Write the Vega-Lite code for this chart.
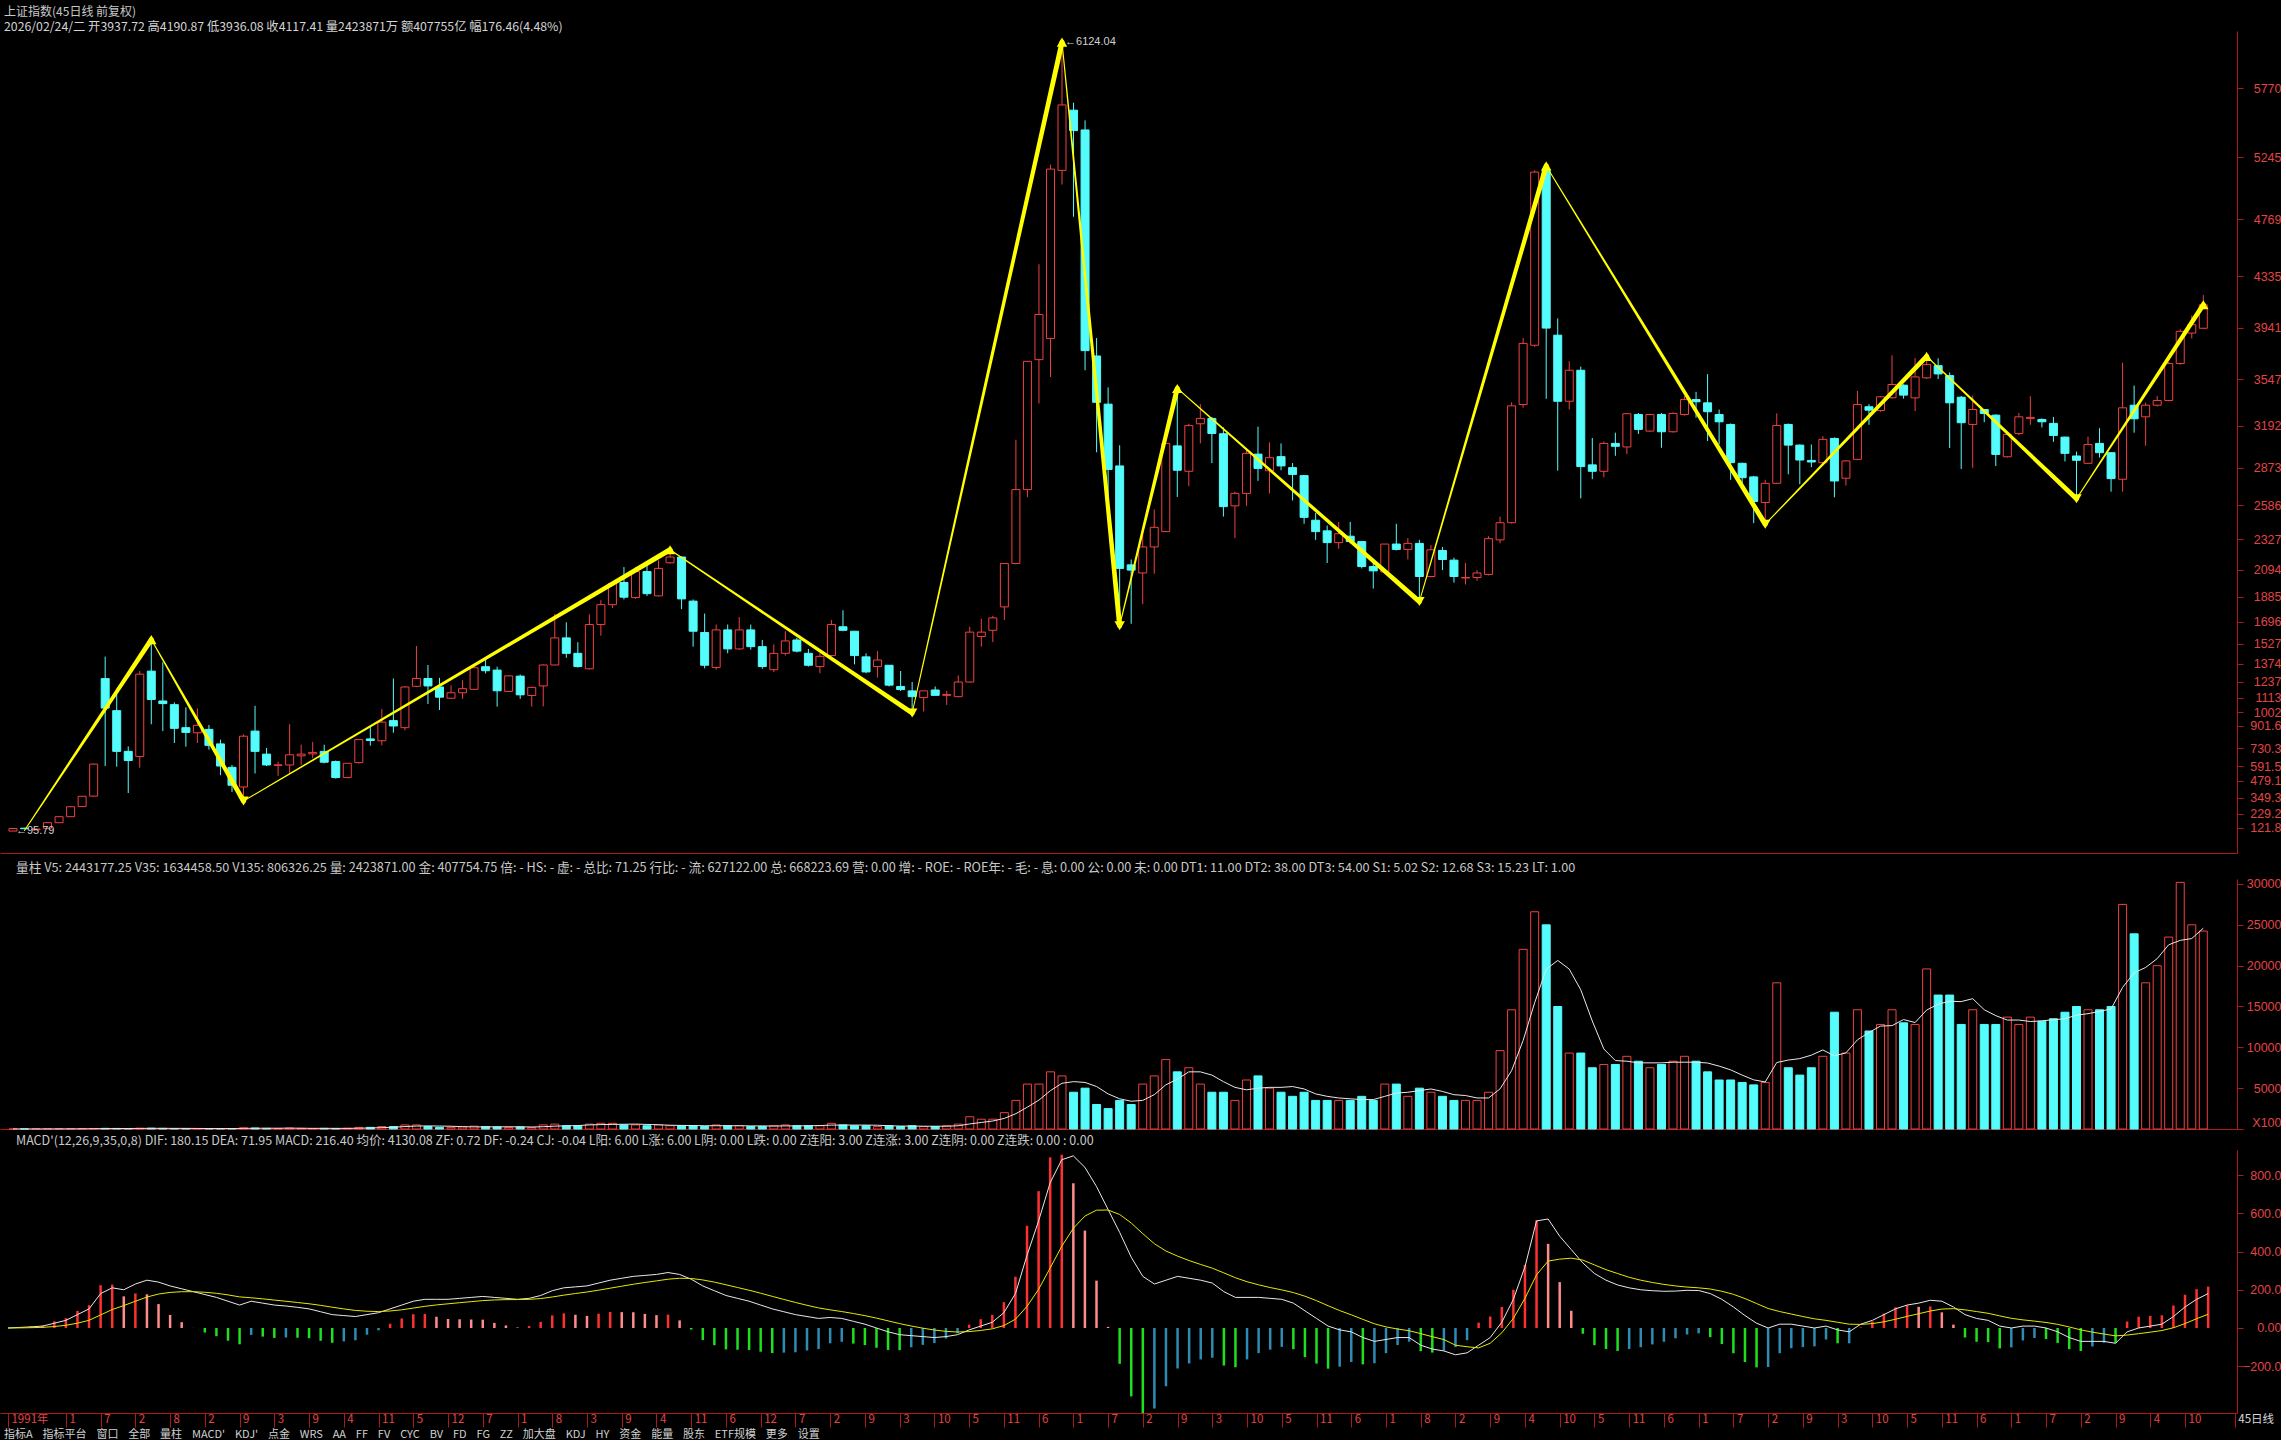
{
"$schema":"https://vega.github.io/schema/vega-lite/v6.json",
"background":"#000000",
"padding":{"left":0,"top":5,"right":0,"bottom":0},
"spacing":9,
"config":{
 "view":{"stroke":null},
 "axis":{"grid":false,"title":null,"domainColor":"#b01818","tickColor":"#b01818","labelColor":"#e04545","labelFont":"Liberation Sans","labelFontSize":12,"labelOverlap":false},
 "title":{"anchor":"start","font":"Liberation Sans Narrow, Noto Sans CJK SC","fontWeight":"normal","fontSize":12,"color":"#c8c8c8","subtitleFont":"Liberation Sans Narrow, Noto Sans CJK SC","subtitleFontSize":12.3,"subtitleColor":"#d4d4d4","offset":3,"subtitlePadding":2}
},
"title":{"text":"指标A\u00a0\u00a0\u00a0\u00a0指标平台\u00a0\u00a0\u00a0\u00a0窗口\u00a0\u00a0\u00a0\u00a0全部\u00a0\u00a0\u00a0\u00a0量柱\u00a0\u00a0\u00a0\u00a0MACD'\u00a0\u00a0\u00a0\u00a0KDJ'\u00a0\u00a0\u00a0\u00a0点金\u00a0\u00a0\u00a0\u00a0WRS\u00a0\u00a0\u00a0\u00a0AA\u00a0\u00a0\u00a0\u00a0FF\u00a0\u00a0\u00a0\u00a0FV\u00a0\u00a0\u00a0\u00a0CYC\u00a0\u00a0\u00a0\u00a0BV\u00a0\u00a0\u00a0\u00a0FD\u00a0\u00a0\u00a0\u00a0FG\u00a0\u00a0\u00a0\u00a0ZZ\u00a0\u00a0\u00a0\u00a0加大盘\u00a0\u00a0\u00a0\u00a0KDJ\u00a0\u00a0\u00a0\u00a0HY\u00a0\u00a0\u00a0\u00a0资金\u00a0\u00a0\u00a0\u00a0能量\u00a0\u00a0\u00a0\u00a0股东\u00a0\u00a0\u00a0\u00a0ETF规模\u00a0\u00a0\u00a0\u00a0更多\u00a0\u00a0\u00a0\u00a0设置","orient":"bottom","anchor":"start","font":"Noto Sans CJK SC","fontSize":11,"offset":1,"dx":4,"color":"#d0d0d0"},
"datasets":{
"k":[
{"i":0,"o":96.05,"h":118,"l":95.79,"c":116,"v":5,"dif":0,"dea":0,"m":0},
{"i":1,"o":118,"h":121,"l":112,"c":114,"v":10,"dif":3,"dea":0.6,"m":4.8},
{"i":2,"o":106,"h":114,"l":104,"c":112,"v":10,"dif":6,"dea":1.7,"m":8.6},
{"i":3,"o":117,"h":162,"l":116,"c":160,"v":15,"dif":10,"dea":3.4,"m":13.2},
{"i":4,"o":160,"h":208,"l":158,"c":206,"v":20,"dif":25,"dea":7.7,"m":34.6},
{"i":5,"o":206,"h":284,"l":204,"c":282,"v":30,"dif":40,"dea":14.2,"m":51.6},
{"i":6,"o":283,"h":364,"l":281,"c":362,"v":40,"dif":70,"dea":25.3,"m":89.4},
{"i":7,"o":363,"h":612,"l":361,"c":608,"v":60,"dif":100,"dea":40.3,"m":119.4},
{"i":8,"o":1261,"h":1429,"l":593,"c":1036,"v":80,"dif":180,"dea":68.2,"m":223.6},
{"i":9,"o":1016,"h":1171,"l":588,"c":705,"v":70,"dif":210,"dea":96.6,"m":226.8},
{"i":10,"o":705,"h":743,"l":386.85,"c":635,"v":60,"dif":200,"dea":117.3,"m":165.4},
{"i":11,"o":666,"h":1320,"l":580,"c":1295,"v":90,"dif":230,"dea":139.8,"m":180.4},
{"i":12,"o":1318,"h":1558.95,"l":912,"c":1101,"v":100,"dif":250,"dea":161.9,"m":176.2},
{"i":13,"o":1090,"h":1386,"l":860,"c":1070,"v":80,"dif":240,"dea":177.5,"m":125},
{"i":14,"o":1062,"h":1080,"l":769,"c":881,"v":60,"dif":220,"dea":186,"m":68},
{"i":15,"o":886,"h":1041,"l":741,"c":850,"v":50,"dif":205,"dea":189.8,"m":30.4},
{"i":16,"o":847,"h":1033,"l":769,"c":904,"v":50,"dif":190,"dea":189.8,"m":0.4},
{"i":17,"o":873,"h":907,"l":718,"c":751,"v":60,"dif":175,"dea":186.9,"m":-23.8},
{"i":18,"o":762,"h":795,"l":523,"c":593,"v":60,"dif":160,"dea":181.5,"m":-43},
{"i":19,"o":583,"h":601,"l":394,"c":446,"v":60,"dif":140,"dea":173.2,"m":-66.4},
{"i":20,"o":433,"h":835,"l":325.89,"c":821,"v":150,"dif":120,"dea":162.6,"m":-85.2},
{"i":21,"o":860,"h":1052.94,"l":536,"c":705,"v":120,"dif":140,"dea":158.1,"m":-36.2},
{"i":22,"o":684,"h":731,"l":593,"c":601,"v":80,"dif":130,"dea":152.5,"m":-45},
{"i":23,"o":598,"h":627,"l":518,"c":602,"v":60,"dif":120,"dea":146,"m":-52},
{"i":24,"o":601,"h":912,"l":536,"c":679,"v":120,"dif":115,"dea":139.8,"m":-49.6},
{"i":25,"o":671,"h":756,"l":601,"c":684,"v":80,"dif":108,"dea":133.4,"m":-50.8},
{"i":26,"o":686,"h":777,"l":653,"c":697,"v":60,"dif":100,"dea":126.7,"m":-53.4},
{"i":27,"o":705,"h":756,"l":614,"c":622,"v":80,"dif":85,"dea":118.4,"m":-66.8},
{"i":28,"o":627,"h":635,"l":497,"c":505,"v":60,"dif":70,"dea":108.7,"m":-77.4},
{"i":29,"o":505,"h":614,"l":500,"c":614,"v":90,"dif":65,"dea":100,"m":-70},
{"i":30,"o":619,"h":800,"l":612,"c":795,"v":200,"dif":60,"dea":92,"m":-64},
{"i":31,"o":800,"h":899,"l":749,"c":788,"v":200,"dif":70,"dea":87.6,"m":-35.2},
{"i":32,"o":786,"h":1028,"l":751,"c":928,"v":300,"dif":80,"dea":86.1,"m":-12.2},
{"i":33,"o":940,"h":1262,"l":847,"c":899,"v":300,"dif":100,"dea":88.9,"m":22.2},
{"i":34,"o":886,"h":1205,"l":865,"c":1197,"v":500,"dif":120,"dea":95.1,"m":49.8},
{"i":35,"o":1202,"h":1510,"l":1197,"c":1262,"v":500,"dif":140,"dea":104.1,"m":71.8},
{"i":36,"o":1262,"h":1365,"l":1067,"c":1205,"v":300,"dif":150,"dea":113.3,"m":73.4},
{"i":37,"o":1197,"h":1267,"l":1021,"c":1119,"v":200,"dif":150,"dea":120.6,"m":58.8},
{"i":38,"o":1111,"h":1210,"l":1106,"c":1153,"v":200,"dif":150,"dea":126.5,"m":47},
{"i":39,"o":1153,"h":1249,"l":1106,"c":1184,"v":250,"dif":155,"dea":132.2,"m":45.6},
{"i":40,"o":1179,"h":1352,"l":1179,"c":1344,"v":350,"dif":160,"dea":137.8,"m":44.4},
{"i":41,"o":1352,"h":1422,"l":1300,"c":1321,"v":300,"dif":165,"dea":143.2,"m":43.6},
{"i":42,"o":1326,"h":1352,"l":1047,"c":1168,"v":250,"dif":160,"dea":146.6,"m":26.8},
{"i":43,"o":1163,"h":1287,"l":1158,"c":1282,"v":200,"dif":155,"dea":148.3,"m":13.4},
{"i":44,"o":1280,"h":1292,"l":1106,"c":1137,"v":250,"dif":150,"dea":148.6,"m":2.8},
{"i":45,"o":1132,"h":1200,"l":1047,"c":1194,"v":200,"dif":155,"dea":149.9,"m":10.2},
{"i":46,"o":1205,"h":1370,"l":1049,"c":1365,"v":500,"dif":170,"dea":153.9,"m":32.2},
{"i":47,"o":1365,"h":1756,"l":1365,"c":1572,"v":600,"dif":195,"dea":162.1,"m":65.8},
{"i":48,"o":1572,"h":1691,"l":1420,"c":1454,"v":400,"dif":210,"dea":171.7,"m":76.6},
{"i":49,"o":1454,"h":1539,"l":1345,"c":1353,"v":400,"dif":215,"dea":180.4,"m":69.2},
{"i":50,"o":1336,"h":1752,"l":1330,"c":1674,"v":600,"dif":220,"dea":188.3,"m":63.4},
{"i":51,"o":1674,"h":1860,"l":1589,"c":1826,"v":700,"dif":235,"dea":197.6,"m":74.8},
{"i":52,"o":1826,"h":1995,"l":1800,"c":1988,"v":700,"dif":250,"dea":208.1,"m":83.8},
{"i":53,"o":1995,"h":2113,"l":1866,"c":1883,"v":500,"dif":260,"dea":218.5,"m":83},
{"i":54,"o":1880,"h":2113,"l":1870,"c":2079,"v":500,"dif":270,"dea":228.8,"m":82.4},
{"i":55,"o":2079,"h":2130,"l":1893,"c":1910,"v":400,"dif":275,"dea":238,"m":74},
{"i":56,"o":1893,"h":2164,"l":1890,"c":2103,"v":500,"dif":280,"dea":246.4,"m":67.2},
{"i":57,"o":2146,"h":2245.44,"l":2140,"c":2190,"v":400,"dif":290,"dea":255.1,"m":69.8},
{"i":58,"o":2190,"h":2195,"l":1792,"c":1870,"v":400,"dif":280,"dea":260.1,"m":39.8},
{"i":59,"o":1853,"h":1866,"l":1505,"c":1623,"v":400,"dif":255,"dea":259.1,"m":-8.2},
{"i":60,"o":1613,"h":1758,"l":1339,"c":1363,"v":300,"dif":220,"dea":251.3,"m":-62.6},
{"i":61,"o":1346,"h":1674,"l":1329,"c":1633,"v":500,"dif":195,"dea":240,"m":-90},
{"i":62,"o":1633,"h":1674,"l":1454,"c":1488,"v":400,"dif":170,"dea":226,"m":-112},
{"i":63,"o":1488,"h":1731,"l":1480,"c":1633,"v":400,"dif":155,"dea":211.8,"m":-113.6},
{"i":64,"o":1633,"h":1674,"l":1482,"c":1505,"v":300,"dif":140,"dea":197.4,"m":-114.8},
{"i":65,"o":1505,"h":1556,"l":1336,"c":1353,"v":300,"dif":120,"dea":181.9,"m":-123.8},
{"i":66,"o":1329,"h":1522,"l":1311,"c":1454,"v":400,"dif":100,"dea":165.5,"m":-131},
{"i":67,"o":1454,"h":1623,"l":1437,"c":1549,"v":500,"dif":85,"dea":149.4,"m":-128.8},
{"i":68,"o":1556,"h":1572,"l":1461,"c":1471,"v":400,"dif":70,"dea":133.5,"m":-127},
{"i":69,"o":1454,"h":1488,"l":1353,"c":1363,"v":400,"dif":60,"dea":118.8,"m":-117.6},
{"i":70,"o":1353,"h":1454,"l":1302,"c":1431,"v":400,"dif":50,"dea":105,"m":-110},
{"i":71,"o":1437,"h":1708,"l":1430,"c":1674,"v":700,"dif":55,"dea":95,"m":-80},
{"i":72,"o":1657,"h":1783,"l":1623,"c":1630,"v":500,"dif":50,"dea":86,"m":-72},
{"i":73,"o":1623,"h":1623,"l":1370,"c":1437,"v":400,"dif":35,"dea":75.8,"m":-81.6},
{"i":74,"o":1427,"h":1454,"l":1302,"c":1312,"v":400,"dif":20,"dea":64.6,"m":-89.2},
{"i":75,"o":1353,"h":1471,"l":1268,"c":1403,"v":300,"dif":0,"dea":51.7,"m":-103.4},
{"i":76,"o":1363,"h":1363,"l":1201,"c":1211,"v":400,"dif":-20,"dea":37.4,"m":-114.8},
{"i":77,"o":1201,"h":1319,"l":1167,"c":1177,"v":300,"dif":-35,"dea":22.9,"m":-115.8},
{"i":78,"o":1167,"h":1235,"l":998.23,"c":1123,"v":400,"dif":-40,"dea":10.3,"m":-100.6},
{"i":79,"o":1116,"h":1167,"l":1010,"c":1167,"v":300,"dif":-45,"dea":-0.8,"m":-88.4},
{"i":80,"o":1174,"h":1201,"l":1133,"c":1133,"v":300,"dif":-50,"dea":-10.6,"m":-78.8},
{"i":81,"o":1133,"h":1167,"l":1060,"c":1140,"v":400,"dif":-45,"dea":-17.5,"m":-55},
{"i":82,"o":1123,"h":1285,"l":1118,"c":1235,"v":600,"dif":-35,"dea":-21,"m":-28},
{"i":83,"o":1235,"h":1657,"l":1230,"c":1616,"v":1500,"dif":-10,"dea":-18.8,"m":17.6},
{"i":84,"o":1583,"h":1718,"l":1505,"c":1616,"v":1200,"dif":10,"dea":-13,"m":46},
{"i":85,"o":1630,"h":1741,"l":1539,"c":1725,"v":1200,"dif":30,"dea":-4.4,"m":68.8},
{"i":86,"o":1809,"h":2140,"l":1708,"c":2140,"v":2000,"dif":80,"dea":12.5,"m":135},
{"i":87,"o":2140,"h":3086,"l":2135,"c":2705,"v":3500,"dif":180,"dea":46,"m":268},
{"i":88,"o":2705,"h":3685,"l":2647,"c":3685,"v":5500,"dif":380,"dea":112.8,"m":534.4},
{"i":89,"o":3698,"h":4427,"l":3363,"c":4043,"v":5500,"dif":560,"dea":202.2,"m":715.6},
{"i":90,"o":3860,"h":5188,"l":3566,"c":5154,"v":7000,"dif":760,"dea":313.8,"m":892.4},
{"i":91,"o":5144,"h":6124.04,"l":5036,"c":5644,"v":6500,"dif":880,"dea":427,"m":906},
{"i":92,"o":5604,"h":5661,"l":4790,"c":5448,"v":4500,"dif":900,"dea":521.6,"m":756.8},
{"i":93,"o":5453,"h":5526,"l":3617,"c":3767,"v":5000,"dif":840,"dea":585.3,"m":509.4},
{"i":94,"o":3726,"h":3863,"l":2990,"c":3372,"v":3000,"dif":740,"dea":616.2,"m":247.6},
{"i":95,"o":3358,"h":3486,"l":2581,"c":2859,"v":2500,"dif":620,"dea":617,"m":6},
{"i":96,"o":2886,"h":3044,"l":1664.93,"c":2103,"v":3500,"dif":500,"dea":593.6,"m":-187.2},
{"i":97,"o":2130,"h":2171,"l":1680,"c":2090,"v":3000,"dif":370,"dea":548.9,"m":-357.8},
{"i":98,"o":2068,"h":2403,"l":1830,"c":2267,"v":5500,"dif":270,"dea":493.1,"m":-446.2},
{"i":99,"o":2267,"h":2553,"l":2062,"c":2417,"v":6500,"dif":230,"dea":440.5,"m":-421},
{"i":100,"o":2384,"h":3099,"l":2380,"c":3058,"v":8500,"dif":250,"dea":402.4,"m":-304.8},
{"i":101,"o":3039,"h":3478.01,"l":2649,"c":2853,"v":7000,"dif":270,"dea":375.9,"m":-211.8},
{"i":102,"o":2845,"h":3208,"l":2731,"c":3194,"v":7500,"dif":260,"dea":352.7,"m":-185.4},
{"i":103,"o":3208,"h":3358,"l":3058,"c":3249,"v":5500,"dif":250,"dea":332.2,"m":-164.4},
{"i":104,"o":3249,"h":3260,"l":2908,"c":3134,"v":4500,"dif":235,"dea":312.8,"m":-155.6},
{"i":105,"o":3132,"h":3181,"l":2499,"c":2575,"v":4500,"dif":190,"dea":288.2,"m":-196.4},
{"i":106,"o":2581,"h":2690,"l":2335,"c":2676,"v":3500,"dif":160,"dea":262.6,"m":-205.2},
{"i":107,"o":2676,"h":3017,"l":2581,"c":2982,"v":6000,"dif":160,"dea":242.1,"m":-164.2},
{"i":108,"o":2976,"h":3186,"l":2772,"c":2867,"v":6500,"dif":160,"dea":225.7,"m":-131.4},
{"i":109,"o":2849,"h":3066,"l":2676,"c":2949,"v":5000,"dif":155,"dea":211.6,"m":-113.2},
{"i":110,"o":2957,"h":3058,"l":2853,"c":2886,"v":4500,"dif":150,"dea":199.3,"m":-98.6},
{"i":111,"o":2873,"h":2908,"l":2622,"c":2821,"v":4000,"dif":130,"dea":185.4,"m":-110.8},
{"i":112,"o":2812,"h":2815,"l":2444,"c":2493,"v":4500,"dif":90,"dea":166.3,"m":-152.6},
{"i":113,"o":2471,"h":2526,"l":2321,"c":2384,"v":3500,"dif":50,"dea":143,"m":-186},
{"i":114,"o":2390,"h":2431,"l":2144,"c":2300,"v":3500,"dif":10,"dea":116.4,"m":-212.8},
{"i":115,"o":2300,"h":2458,"l":2253,"c":2368,"v":3500,"dif":-10,"dea":91.1,"m":-202.2},
{"i":116,"o":2349,"h":2458,"l":2294,"c":2308,"v":3500,"dif":-20,"dea":68.9,"m":-177.8},
{"i":117,"o":2308,"h":2310,"l":2103,"c":2117,"v":4000,"dif":-50,"dea":45.1,"m":-190.2},
{"i":118,"o":2117,"h":2171,"l":1949,"c":2084,"v":3500,"dif":-70,"dea":22.1,"m":-184.2},
{"i":119,"o":2076,"h":2289,"l":2062,"c":2289,"v":5500,"dif":-60,"dea":5.7,"m":-131.4},
{"i":120,"o":2289,"h":2444,"l":2240,"c":2248,"v":5500,"dif":-50,"dea":-5.4,"m":-89.2},
{"i":121,"o":2248,"h":2335,"l":2171,"c":2294,"v":4000,"dif":-50,"dea":-14.3,"m":-71.4},
{"i":122,"o":2294,"h":2321,"l":1849.65,"c":2041,"v":5000,"dif":-90,"dea":-29.5,"m":-121},
{"i":123,"o":2041,"h":2281,"l":2035,"c":2245,"v":4500,"dif":-110,"dea":-45.6,"m":-128.8},
{"i":124,"o":2240,"h":2267,"l":2090,"c":2171,"v":4000,"dif":-120,"dea":-60.5,"m":-119},
{"i":125,"o":2166,"h":2185,"l":1994,"c":2041,"v":3500,"dif":-140,"dea":-90,"m":-100},
{"i":126,"o":2030,"h":2144,"l":1980,"c":2033,"v":3500,"dif":-130,"dea":-98,"m":-64},
{"i":127,"o":2033,"h":2090,"l":2008,"c":2068,"v":3500,"dif":-90,"dea":-104,"m":28},
{"i":128,"o":2057,"h":2349,"l":2049,"c":2330,"v":4500,"dif":-50,"dea":-80,"m":60},
{"i":129,"o":2321,"h":2499,"l":2294,"c":2452,"v":9600,"dif":30,"dea":-25,"m":110},
{"i":130,"o":2452,"h":3372,"l":2445,"c":3345,"v":14600,"dif":150,"dea":50,"m":200},
{"i":131,"o":3355,"h":3863,"l":3331,"c":3822,"v":22000,"dif":320,"dea":155,"m":330},
{"i":132,"o":3808,"h":5145,"l":3795,"c":5131,"v":26600,"dif":560,"dea":278,"m":564},
{"i":133,"o":5145,"h":5178.19,"l":3399,"c":3939,"v":25000,"dif":570,"dea":350,"m":440},
{"i":134,"o":3885,"h":4013,"l":2850,"c":3380,"v":15000,"dif":480,"dea":360,"m":240},
{"i":135,"o":3380,"h":3686,"l":3317,"c":3617,"v":9300,"dif":410,"dea":365,"m":90},
{"i":136,"o":3617,"h":3645,"l":2638,"c":2881,"v":9300,"dif":340,"dea":355,"m":-30},
{"i":137,"o":2894,"h":3099,"l":2785,"c":2845,"v":7500,"dif":285,"dea":330,"m":-90},
{"i":138,"o":2845,"h":3072,"l":2799,"c":3058,"v":7900,"dif":250,"dea":305,"m":-110},
{"i":139,"o":3058,"h":3140,"l":2963,"c":3036,"v":7900,"dif":225,"dea":285,"m":-120},
{"i":140,"o":3031,"h":3290,"l":2976,"c":3285,"v":8900,"dif":210,"dea":265,"m":-110},
{"i":141,"o":3279,"h":3290,"l":3130,"c":3165,"v":8300,"dif":200,"dea":250,"m":-100},
{"i":142,"o":3152,"h":3285,"l":3145,"c":3279,"v":7500,"dif":195,"dea":238,"m":-86},
{"i":143,"o":3279,"h":3290,"l":3025,"c":3147,"v":7900,"dif":192,"dea":228,"m":-72},
{"i":144,"o":3147,"h":3295,"l":3140,"c":3287,"v":8300,"dif":193,"dea":220,"m":-54},
{"i":145,"o":3279,"h":3419,"l":3270,"c":3393,"v":8900,"dif":197,"dea":214,"m":-34},
{"i":146,"o":3393,"h":3452,"l":3254,"c":3376,"v":8300,"dif":196,"dea":210,"m":-28},
{"i":147,"o":3368,"h":3587,"l":3076,"c":3300,"v":7000,"dif":180,"dea":204,"m":-48},
{"i":148,"o":3279,"h":3317,"l":3050,"c":3223,"v":6000,"dif":150,"dea":192,"m":-84},
{"i":149,"o":3203,"h":3210,"l":2780,"c":2911,"v":6000,"dif":110,"dea":176,"m":-132},
{"i":150,"o":2906,"h":2910,"l":2750,"c":2796,"v":5700,"dif":65,"dea":154,"m":-178},
{"i":151,"o":2802,"h":2810,"l":2449,"c":2614,"v":5400,"dif":25,"dea":128,"m":-206},
{"i":152,"o":2606,"h":2780,"l":2440.91,"c":2753,"v":5700,"dif":0,"dea":102,"m":-204},
{"i":153,"o":2753,"h":3288,"l":2750,"c":3195,"v":17900,"dif":20,"dea":86,"m":-132},
{"i":154,"o":3203,"h":3210,"l":2822,"c":3045,"v":7500,"dif":20,"dea":73,"m":-106},
{"i":155,"o":3045,"h":3050,"l":2746,"c":2931,"v":6600,"dif":10,"dea":60,"m":-100},
{"i":156,"o":2928,"h":3050,"l":2876,"c":2916,"v":7500,"dif":0,"dea":48,"m":-96},
{"i":157,"o":2911,"h":3114,"l":2900,"c":3089,"v":8900,"dif":10,"dea":40,"m":-60},
{"i":158,"o":3096,"h":3104,"l":2646,"c":2771,"v":14300,"dif":-10,"dea":30,"m":-80},
{"i":159,"o":2792,"h":2931,"l":2736,"c":2924,"v":9300,"dif":-20,"dea":20,"m":-80},
{"i":160,"o":2936,"h":3458,"l":2930,"c":3355,"v":14600,"dif":20,"dea":18.8,"m":2.4},
{"i":161,"o":3338,"h":3358,"l":3200,"c":3312,"v":12000,"dif":40,"dea":23,"m":34},
{"i":162,"o":3310,"h":3420,"l":3300,"c":3414,"v":12800,"dif":70,"dea":32.4,"m":75.2},
{"i":163,"o":3407,"h":3731,"l":3400,"c":3508,"v":14600,"dif":100,"dea":45.9,"m":108.2},
{"i":164,"o":3503,"h":3510,"l":3400,"c":3427,"v":13000,"dif":120,"dea":60.8,"m":118.4},
{"i":165,"o":3406,"h":3710,"l":3305,"c":3566,"v":12800,"dif":130,"dea":74.6,"m":110.8},
{"i":166,"o":3559,"h":3723,"l":3550,"c":3660,"v":19600,"dif":145,"dea":88.7,"m":112.6},
{"i":167,"o":3652,"h":3708,"l":3550,"c":3589,"v":16400,"dif":140,"dea":99,"m":82},
{"i":168,"o":3576,"h":3600,"l":3023,"c":3368,"v":16400,"dif":110,"dea":101.2,"m":17.6},
{"i":169,"o":3411,"h":3420,"l":2863,"c":3216,"v":12800,"dif":70,"dea":94.9,"m":-49.8},
{"i":170,"o":3203,"h":3424,"l":2872,"c":3317,"v":14600,"dif":50,"dea":86,"m":-72},
{"i":171,"o":3317,"h":3320,"l":3220,"c":3287,"v":12800,"dif":40,"dea":76.8,"m":-73.6},
{"i":172,"o":3274,"h":3280,"l":2885,"c":2974,"v":12800,"dif":10,"dea":63.4,"m":-106.8},
{"i":173,"o":2956,"h":3135,"l":2950,"c":3127,"v":13700,"dif":0,"dea":50.7,"m":-101.4},
{"i":174,"o":3134,"h":3290,"l":3120,"c":3261,"v":12800,"dif":10,"dea":42.6,"m":-65.2},
{"i":175,"o":3249,"h":3418,"l":3200,"c":3257,"v":13700,"dif":10,"dea":36.1,"m":-52.2},
{"i":176,"o":3241,"h":3250,"l":3180,"c":3223,"v":13200,"dif":0,"dea":28.9,"m":-57.8},
{"i":177,"o":3211,"h":3260,"l":3070,"c":3119,"v":13500,"dif":-20,"dea":19.1,"m":-78.2},
{"i":178,"o":3106,"h":3110,"l":2920,"c":2982,"v":14300,"dif":-50,"dea":5.3,"m":-110.6},
{"i":179,"o":2962,"h":2995,"l":2635.09,"c":2929,"v":15000,"dif":-70,"dea":-9.8,"m":-120.4},
{"i":180,"o":2906,"h":3110,"l":2900,"c":3050,"v":14600,"dif":-70,"dea":-21.8,"m":-96.4},
{"i":181,"o":3058,"h":3174,"l":2950,"c":2987,"v":14600,"dif":-70,"dea":-31.5,"m":-77},
{"i":182,"o":2987,"h":2990,"l":2689,"c":2789,"v":15000,"dif":-80,"dea":-41.2,"m":-77.6},
{"i":183,"o":2784,"h":3674,"l":2689,"c":3330,"v":27500,"dif":-20,"dea":-37,"m":34},
{"i":184,"o":3350,"h":3500,"l":3140,"c":3246,"v":23900,"dif":0,"dea":-29.6,"m":59.2},
{"i":185,"o":3261,"h":3370,"l":3040,"c":3350,"v":17900,"dif":10,"dea":-21.7,"m":63.4},
{"i":186,"o":3350,"h":3420,"l":3340,"c":3386,"v":20000,"dif":20,"dea":-13.3,"m":66.6},
{"i":187,"o":3386,"h":3680,"l":3380,"c":3668,"v":23500,"dif":60,"dea":1.3,"m":117.4},
{"i":188,"o":3668,"h":3930,"l":3660,"c":3914,"v":30200,"dif":110,"dea":23.1,"m":173.8},
{"i":189,"o":3901,"h":4035,"l":3860,"c":3965,"v":25000,"dif":150,"dea":48.5,"m":203},
{"i":190,"o":3937.72,"h":4190.87,"l":3936.08,"c":4117.41,"v":24238.71,"dif":180.15,"dea":71.95,"m":216.4}
],
"zz":[
{"leg":0,"i":1,"p":100,"e":0,"dir":"up"},{"leg":0,"i":12,"p":1558.95,"e":1,"dir":"up"},
{"leg":1,"i":12,"p":1558.95,"e":0,"dir":"down"},{"leg":1,"i":20,"p":325.89,"e":1,"dir":"down"},
{"leg":2,"i":20,"p":325.89,"e":0,"dir":"up"},{"leg":2,"i":57,"p":2245.44,"e":1,"dir":"up"},
{"leg":3,"i":57,"p":2245.44,"e":0,"dir":"down"},{"leg":3,"i":78,"p":998.23,"e":1,"dir":"down"},
{"leg":4,"i":78,"p":998.23,"e":0,"dir":"up"},{"leg":4,"i":91,"p":6124.04,"e":1,"dir":"up"},
{"leg":5,"i":91,"p":6124.04,"e":0,"dir":"down"},{"leg":5,"i":96,"p":1664.93,"e":1,"dir":"down"},
{"leg":6,"i":96,"p":1664.93,"e":0,"dir":"up"},{"leg":6,"i":101,"p":3478.01,"e":1,"dir":"up"},
{"leg":7,"i":101,"p":3478.01,"e":0,"dir":"down"},{"leg":7,"i":122,"p":1849.65,"e":1,"dir":"down"},
{"leg":8,"i":122,"p":1849.65,"e":0,"dir":"up"},{"leg":8,"i":133,"p":5178.19,"e":1,"dir":"up"},
{"leg":9,"i":133,"p":5178.19,"e":0,"dir":"down"},{"leg":9,"i":152,"p":2440.91,"e":1,"dir":"down"},
{"leg":10,"i":152,"p":2440.91,"e":0,"dir":"up"},{"leg":10,"i":166,"p":3723,"e":1,"dir":"up"},
{"leg":11,"i":166,"p":3723,"e":0,"dir":"down"},{"leg":11,"i":179,"p":2635.09,"e":1,"dir":"down"},
{"leg":12,"i":179,"p":2635.09,"e":0,"dir":"up"},{"leg":12,"i":190,"p":4117.41,"e":1,"dir":"up"}
],
"lab":[
{"i":91,"p":6124.04,"t":"←6124.04"},
{"i":0,"p":95.79,"t":"←95.79"}
]
},
"vconcat":[
{
 "width":2237,"height":822,
 "title":{"text":"上证指数(45日线 前复权)","subtitle":"2026/02/24/二 开3937.72 高4190.87 低3936.08 收4117.41 量2423871万 额407755亿 幅176.46(4.48%)","dx":4,"offset":-3},
 "layer":[
  {"data":{"name":"k"},"mark":{"type":"rule","strokeWidth":1},
   "encoding":{
    "x":{"field":"i","type":"quantitative","scale":{"domain":[-0.69,192.49],"nice":false,"zero":false},"axis":{"orient":"bottom","labels":false,"ticks":false,"domain":true,"domainColor":"#b01818"}},
    "y":{"field":"l","type":"quantitative","scale":{"domain":[-71.5,6209],"nice":false,"zero":false},
      "axis":{"orient":"right","values":[121.8,229.2,349.3,479.1,591.5,730.3,901.6,1002,1113,1237,1374,1527,1696,1885,2094,2327,2586,2873,3192,3547,3941,4335,4769,5245,5770],"tickCount":500,
        "labelExpr":"datum.value >= 1000 ? format(datum.value, 'd') : format(datum.value, '.1f')","tickSize":6,"labelAlign":"right","labelPadding":38,"labelBaseline":"middle","labelFontSize":12.5,"labelOverlap":false,"labelFlush":false}},
    "y2":{"field":"h"},
    "color":{"condition":{"test":"datum.c >= datum.o","value":"#f04040"},"value":"#54fcfc"}}},
  {"data":{"name":"k"},"mark":{"type":"bar","width":8,"strokeWidth":1},
   "encoding":{
    "x":{"field":"i","type":"quantitative"},
    "y":{"field":"o","type":"quantitative"},
    "y2":{"field":"c"},
    "fill":{"condition":{"test":"datum.c >= datum.o","value":"#000000"},"value":"#54fcfc"},
    "stroke":{"condition":{"test":"datum.c >= datum.o","value":"#f04040"},"value":"#54fcfc"}}},
  {"data":{"name":"zz"},"mark":{"type":"trail","color":"#ffff00"},
   "encoding":{
    "x":{"field":"i","type":"quantitative"},
    "y":{"field":"p","type":"quantitative"},
    "detail":{"field":"leg","type":"nominal"},
    "order":{"field":"e","type":"quantitative"},
    "size":{"field":"e","type":"quantitative","scale":{"domain":[0,1],"range":[1,5]},"legend":null}}},
  {"data":{"name":"zz"},"transform":[{"filter":"datum.e == 1"}],"mark":{"type":"point","filled":true,"color":"#ffff00","opacity":1,"size":110},
   "encoding":{
    "x":{"field":"i","type":"quantitative"},
    "y":{"field":"p","type":"quantitative"},
    "shape":{"field":"dir","type":"nominal","scale":{"domain":["up","down"],"range":["triangle-up","triangle-down"]},"legend":null}}},
  {"data":{"name":"lab"},"mark":{"type":"text","align":"left","baseline":"middle","dx":3,"color":"#d0d0d0","fontSize":11,"font":"Liberation Sans"},
   "encoding":{
    "x":{"field":"i","type":"quantitative"},
    "y":{"field":"p","type":"quantitative"},
    "text":{"field":"t"}}}
 ]
},
{
 "spacing":3,
 "vconcat":[
 {
 "width":2237,"height":250,
 "title":{"text":"量柱 V5: 2443177.25 V35: 1634458.50 V135: 806326.25 量: 2423871.00 金: 407754.75 倍: - HS: - 虚: - 总比: 71.25 行比: - 流: 627122.00 总: 668223.69 营: 0.00 增: - ROE: - ROE年: - 毛: - 息: 0.00 公: 0.00 未: 0.00 DT1: 11.00 DT2: 38.00 DT3: 54.00 S1: 5.02 S2: 12.68 S3: 15.23 LT: 1.00","fontSize":12.7,"dx":16},
 "data":{"name":"k"},
 "layer":[
  {"mark":{"type":"bar","width":8,"strokeWidth":1},
   "encoding":{
    "x":{"field":"i","type":"quantitative","scale":{"domain":[-0.69,192.49],"nice":false,"zero":false},"axis":{"orient":"bottom","labels":false,"ticks":false,"domain":true,"domainColor":"#b01818"}},
    "y":{"field":"v","type":"quantitative","scale":{"domain":[0,30612],"nice":false},
      "axis":{"orient":"right","values":[0,5000,10000,15000,20000,25000,30000],"tickCount":500,"labelExpr":"datum.value == 0 ? 'X100' : format(datum.value, 'd')","tickSize":6,"labelAlign":"right","labelPadding":38,"labelFontSize":12.5,
        "labelBaseline":{"condition":{"test":"datum.value == 0","value":"bottom"},"value":"middle"},"labelOverlap":false,"labelFlush":false}},
    "fill":{"condition":{"test":"datum.c >= datum.o","value":"#000000"},"value":"#54fcfc"},
    "stroke":{"condition":{"test":"datum.c >= datum.o","value":"#f04040"},"value":"#54fcfc"}}},
  {"transform":[{"window":[{"op":"mean","field":"v","as":"ma5"}],"frame":[-4,0],"sort":[{"field":"i"}]}],
   "mark":{"type":"line","color":"#e8e8e8","strokeWidth":1},
   "encoding":{
    "x":{"field":"i","type":"quantitative"},
    "y":{"field":"ma5","type":"quantitative"}}}
 ]
 },
 {
 "width":2237,"height":263,
 "title":{"text":"MACD'(12,26,9,35,0,8) DIF: 180.15 DEA: 71.95 MACD: 216.40 均价: 4130.08 ZF: 0.72 DF: -0.24 CJ: -0.04 L阳: 6.00 L涨: 6.00 L阴: 0.00 L跌: 0.00 Z连阳: 3.00 Z连涨: 3.00 Z连阴: 0.00 Z连跌: 0.00 : 0.00","fontSize":12.5,"dx":16},
 "data":{"name":"k"},
 "layer":[
  {"transform":[{"window":[{"op":"lag","field":"m","as":"pm"}],"sort":[{"field":"i"}]}],
   "mark":{"type":"rule","strokeWidth":2.5},
   "encoding":{
    "x":{"field":"i","type":"quantitative","scale":{"domain":[-0.69,192.49],"nice":false,"zero":false},
      "axis":{"orient":"bottom","values":[0,5,8,11,14,17,20,23,26,29,32,35,38,41,44,47,50,53,56,59,62,65,68,71,74,77,80,83,86,89,92,95,98,101,104,107,110,113,116,119,122,125,128,131,134,137,140,143,146,149,152,155,158,161,164,167,170,173,176,179,182,185,188,192.3],"tickCount":500,
       "labelExpr":"datum.value < 1 ? '1991年' : datum.value > 190 ? '45日线' : ['1','7','2','8','2','9','3','9','4','11','5','12','7','1','8','3','9','4','11','6','12','7','2','9','3','10','5','11','6','1','7','2','9','3','10','5','11','6','1','8','2','9','4','10','5','11','6','1','7','2','9','3','10','5','11','6','1','7','2','9','4','10'][round((datum.value - 5) / 3)]",
       "labelColor":{"condition":{"test":"datum.value > 190","value":"#d8d8d8"},"value":"#e04545"},
       "labelFont":"Noto Sans CJK SC",
       "tickSize":14,"labelAlign":"left","labelBaseline":"top","labelPadding":-14,"labelOffset":3,"labelFontSize":11.5,"labelOverlap":false,"labelFlush":false}},
    "y":{"field":"m","type":"quantitative","scale":{"domain":[-444.5,930.8],"nice":false,"zero":false},
      "axis":{"orient":"right","values":[-200,0,200,400,600,800],"tickCount":500,"labelExpr":"datum.value == 0 ? '0.00' : format(datum.value, '.1f')","tickSize":6,"labelAlign":"right","labelPadding":38,"labelFontSize":12.5,"labelBaseline":"middle","labelOverlap":false,"labelFlush":false}},
    "y2":{"datum":0},
    "color":{"condition":[
      {"test":"datum.m >= 0 && datum.m >= datum.pm","value":"#ff3030"},
      {"test":"datum.m >= 0","value":"#ff8c8c"},
      {"test":"datum.m < datum.pm","value":"#1ee01e"}],"value":"#2d8cb4"}}},
  {"mark":{"type":"line","color":"#e8e8e8","strokeWidth":1},
   "encoding":{"x":{"field":"i","type":"quantitative"},"y":{"field":"dif","type":"quantitative"}}},
  {"mark":{"type":"line","color":"#e8e800","strokeWidth":1},
   "encoding":{"x":{"field":"i","type":"quantitative"},"y":{"field":"dea","type":"quantitative"}}}
 ]
 }
 ]
}
]
}
